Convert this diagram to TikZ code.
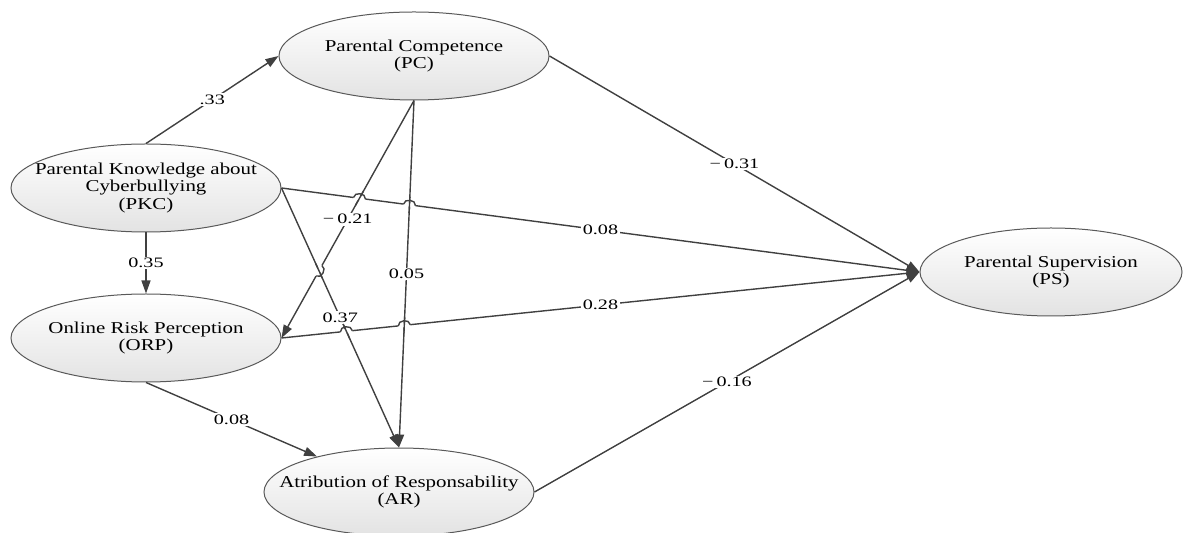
\documentclass[tikz,border=0pt]{standalone}
\usepackage{fontspec}
\setmainfont{Liberation Serif}[FakeStretch=1.26]
\newfontfamily\coeffont{Liberation Serif}[FakeStretch=1.4]
\usetikzlibrary{shapes.geometric,arrows.meta,intersections,calc}

\tikzset{
  construct/.style={ellipse, draw=black!65, line width=0.5pt, top color=white, bottom color=gray!22,
    minimum width=135pt, minimum height=44pt, inner xsep=-20pt, inner ysep=0pt, align=center,
    font=\fontsize{8.3}{7.3}\selectfont},
  link/.style={draw=black!75, line width=0.7pt, -{Triangle[length=6.5pt,width=4.5pt]}},
  hopline/.style={draw=black!75, line width=0.7pt},
  coef/.style={fill=white, inner sep=0.8pt, midway, font=\coeffont\fontsize{7.2}{8}\selectfont},
}

% small jump where one path passes over another
\newcommand{\linehop}[6]{%
  \path[name intersections={of=#1 and #2, by=hx}];
  \draw[white, line width=2pt] ($(hx)!3pt!(#3)$) -- ($(hx)!3pt!(#4)$);
  \draw[hopline] ($(hx)!4pt!(#5)$) -- ($(hx)!4pt!(#6)$);
  \draw[hopline] ($(hx)!3pt!(#3)$) to[bend left=90, looseness=1.3] ($(hx)!3pt!(#4)$);
}

\begin{document}
\begin{tikzpicture}[x=0.5pt,y=-0.5pt]
\useasboundingbox (0,0) rectangle (1187,533);

\node[construct] (pc) at (414,56) {Parental Competence\\(PC)};
\node[construct] (pkc) at (146,188) {Parental Knowledge about\\Cyberbullying\\(PKC)};
\node[construct] (orp) at (146,338) {Online Risk Perception\\(ORP)};
\node[construct] (ar) at (399,492) {Atribution of Responsability\\(AR)};
\node[construct, minimum width=131pt] (ps) at (1051,272) {Parental Supervision\\(PS)};

\draw[link] (pkc.north) -- node[coef]{.33} (pc.west);
\draw[link] (pkc.south) -- node[coef]{0.35} (orp.north);
\draw[link, name path=pkcps] (pkc.east) -- node[coef]{0.08} (ps.west);
\draw[link, name path=pkcar] (pkc.east) -- node[coef]{0.37} (ar.north);
\draw[link, name path=pcorp] (pc.south) -- node[coef]{−\hspace{1.5pt}0.21} (orp.east);
\draw[link, name path=pcar] (pc.south) -- node[coef]{0.05} (ar.north);
\draw[link] (pc.east) -- node[coef]{−\hspace{1.5pt}0.31} (ps.west);
\draw[link, name path=orpps] (orp.east) -- node[coef]{0.28} (ps.west);
\draw[link] (orp.south) -- node[coef]{0.08} (ar);
\draw[link] (ar.east) -- node[coef]{−\hspace{1.5pt}0.16} (ps.west);

% jumps
\linehop{pkcps}{pcorp}{pkc.east}{ps.west}{pc.south}{orp.east}
\linehop{pkcps}{pcar}{pkc.east}{ps.west}{pc.south}{ar.north}
\linehop{orpps}{pkcar}{orp.east}{ps.west}{pkc.east}{ar.north}
\linehop{orpps}{pcar}{orp.east}{ps.west}{pc.south}{ar.north}
\linehop{pcorp}{pkcar}{pc.south}{orp.east}{pkc.east}{ar.north}
\end{tikzpicture}
\end{document}
